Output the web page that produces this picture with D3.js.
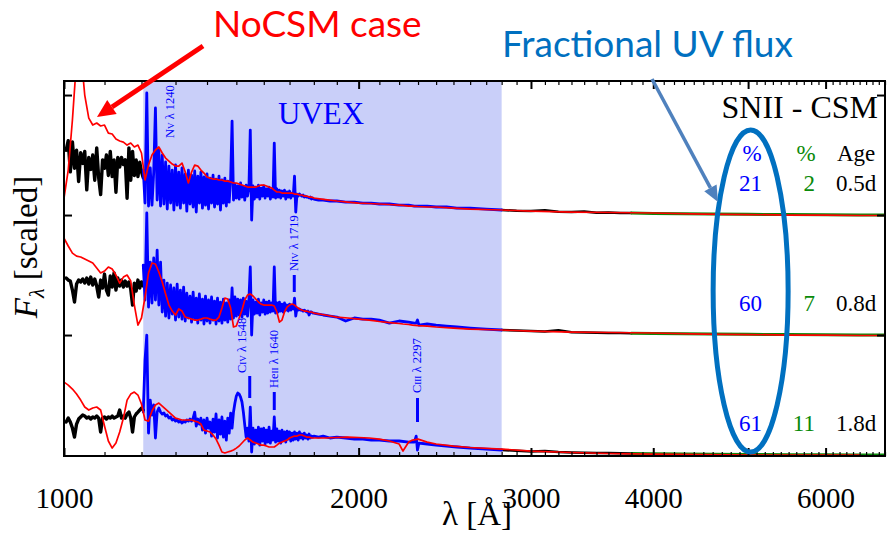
<!DOCTYPE html>
<html>
<head>
<meta charset="utf-8">
<script src="https://cdn.jsdelivr.net/npm/d3@7/dist/d3.min.js"></script>
<style>
  html, body { margin:0; padding:0; background:#ffffff; }
  svg { display:block; }
</style>
</head>
<body>
<svg id="chart" width="888" height="533"></svg>
<script>
// ================= DATA =================
const xTickLabels = [1000, 2000, 3000, 4000, 6000];
const xMajorTicks = [1000, 2000, 3000, 4000, 5000, 6000];
const offsets = [2, 1, 0];               // vertical offsets: 0.5d, 0.8d, 1.8d
const ages = ["0.5d", "0.8d", "1.8d"];
const uvPercent = [21, 60, 61];          // fractional UV flux (blue %)
const optPercent = [2, 7, 11];           // green %
const uvexBand = [1205, 2800];

// far-UV observed part (black)
const waveFar = [1005,1010,1015,1020,1025,1030,1035,1040,1045,1050,1055,1060,1065,1070,1075,1080,1085,1090,1095,1100,1105,1110,1115,1120,1125,1130,1135,1140,1145,1150,1155,1160,1165,1170,1175,1180,1185,1190,1195,1200,1205];
const farTop = [0.54,0.62,0.36,0.61,0.39,0.54,0.28,0.52,0.43,0.53,0.21,0.48,0.38,0.5,0.29,0.56,0.31,0.17,0.46,0.39,0.5,0.33,0.53,0.32,0.46,0.19,0.48,0.4,0.48,0.42,0.46,0.14,0.56,0.29,0.53,0.33,0.46,0.32,0.44,0.36,0.31];
const farMid = [0.475,0.458,0.45,0.375,0.275,0.425,0.458,0.442,0.467,0.433,0.475,0.425,0.483,0.417,0.467,0.408,0.317,0.458,0.392,0.508,0.375,0.333,0.492,0.4,0.517,0.375,0.475,0.408,0.458,0.4,0.45,0.408,0.442,0.383,0.25,0.433,0.367,0.458,0.392,0.442,0.408];
const farBot = [0.275,0.308,0.275,0.225,0.15,0.258,0.3,0.317,0.333,0.325,0.308,0.317,0.3,0.317,0.308,0.325,0.308,0.192,0.308,0.317,0.3,0.317,0.308,0.325,0.308,0.317,0.325,0.375,0.308,0.325,0.308,0.342,0.358,0.308,0.192,0.317,0.342,0.358,0.375,0.392,0.375];

// UVEX band (blue)
const waveUV = [1205,1210,1215,1220,1225,1230,1235,1240,1245,1250,
1255,1260,1265,1270,1275,1280,1285,1290,1295,1300,
1305,1310,1315,1320,1325,1330,1335,1340,1345,1350,
1355,1360,1365,1370,1375,1380,1385,1390,1395,1400,
1405,1410,1415,1420,1425,1430,1435,1440,1445,1450,
1455,1460,1465,1470,1475,1480,1485,1490,1495,1500,
1505,1510,1515,1520,1525,1530,1535,1540,1545,1550,
1555,1560,1565,1570,1575,1580,1585,1590,1595,1600,
1605,1610,1615,1620,1625,1630,1635,1640,1645,1650,
1655,1660,1665,1670,1675,1680,1685,1690,1695,1700,
1705,1710,1715,1720,1725,1730,1735,1740,1745,1750,
1755,1760,1765,1770,1775,1780,1785,1790,1795,1800,
1820,1840,1870,1900,1940,1980,2020,2060,2100,2150,2200,2250,2280,2290,2297,2305,2350,2400,2460,2520,2600,2700,2800];
const uvTop = [0.375,0.1,1.017,0.075,0.392,0.083,0.358,0.892,0.125,0.542,
0.075,0.5,0.092,0.442,0.05,0.408,0.1,0.375,0.042,0.417,
0.083,0.358,0.058,0.392,0.1,0.342,0.033,0.375,0.092,0.333,
0.067,0.367,0.025,0.325,0.1,0.358,0.058,0.317,0.083,0.342,
0.05,0.308,0.1,0.333,0.067,0.3,0.092,0.325,0.042,0.292,
0.1,0.308,0.075,0.283,0.108,0.3,0.783,0.125,0.258,0.142,
0.242,0.133,0.267,0.15,0.233,0.125,0.25,0.158,0.225,0.708,
-0.042,0.242,0.133,0.233,0.15,0.25,0.133,0.225,0.158,0.242,
0.142,0.217,0.158,0.233,0.133,0.208,0.15,0.6,0.142,0.217,
0.15,0.208,0.142,0.2,0.158,0.208,0.133,0.192,0.15,0.2,
0.142,0.183,0.158,0.325,0.025,0.175,0.158,0.175,0.167,0.158,
0.167,0.15,0.158,0.15,0.15,0.142,0.15,0.133,0.142,0.133,
0.125,0.125,0.117,0.117,0.108,0.108,0.1,0.1,0.092,0.092,0.083,0.083,0.075,0.075,0.075,0.075,0.075,0.067,0.067,0.058,0.058,0.05,0.042];
const uvMid = [0.583,0.292,1.017,0.233,0.608,0.267,0.642,0.292,0.708,0.25,
0.608,0.192,0.458,0.158,0.433,0.142,0.417,0.175,0.392,0.125,
0.425,0.15,0.375,0.133,0.4,0.117,0.35,0.142,0.325,0.108,
0.358,0.133,0.308,0.1,0.342,0.125,0.3,0.092,0.325,0.117,
0.292,0.1,0.317,0.125,0.283,0.092,0.308,0.117,0.275,0.1,
0.3,0.125,0.267,0.108,0.292,0.133,0.392,0.142,0.317,0.158,
0.3,0.167,0.292,0.15,0.308,0.175,0.283,0.158,0.3,0.567,
0,0.292,0.175,0.275,0.183,0.3,0.167,0.267,0.192,0.292,
0.175,0.275,0.183,0.283,0.192,0.267,0.2,0.567,0.183,0.267,
0.192,0.275,0.2,0.258,0.192,0.267,0.208,0.25,0.2,0.258,
0.208,0.242,0.217,0.308,0.158,0.225,0.208,0.217,0.208,0.208,
0.2,0.208,0.2,0.192,0.2,0.167,0.192,0.192,0.183,0.183,
0.175,0.167,0.158,0.15,0.117,0.142,0.133,0.133,0.125,0.1,0.117,0.108,0.1,0.1,0.125,0.083,0.092,0.083,0.075,0.067,0.058,0.05,0.042];
const uvBot = [0.358,0.792,1.0,0.183,0.458,0.333,0.417,0.142,0.358,0.392,
0.358,0.342,0.35,0.325,0.333,0.308,0.317,0.292,0.3,0.283,
0.292,0.275,0.283,0.267,0.283,0.275,0.292,0.283,0.3,0.283,
0.308,0.358,0.242,0.3,0.258,0.308,0.208,0.292,0.183,0.308,
0.225,0.275,0.158,0.3,0.192,0.342,0.142,0.292,0.175,0.317,
0.15,0.283,0.125,0.308,0.183,0.35,0.225,0.358,0.433,0.492,
0.517,0.508,0.483,0.442,0.358,0.25,0.15,0.225,0.117,0.4,
0.025,0.225,0.092,0.208,0.108,0.233,0.083,0.217,0.117,0.225,
0.092,0.208,0.108,0.233,0.1,0.2,0.125,0.317,0.108,0.217,
0.117,0.2,0.1,0.208,0.125,0.192,0.108,0.2,0.133,0.192,
0.117,0.183,0.125,0.192,0.133,0.183,0.125,0.192,0.142,0.175,
0.133,0.183,0.142,0.167,0.133,0.175,0.142,0.158,0.15,0.158,
0.15,0.158,0.142,0.15,0.142,0.133,0.133,0.125,0.125,0.117,0.117,0.108,0.108,0.158,0.042,0.1,0.092,0.083,0.075,0.067,0.058,0.05,0.042];

// optical observed part (black) and long-wavelength part (green)
const waveOpt = [2800,2900,3000,3100,3200,3300,3400,3500,3600,3700,3800];
const optTop = [0.042,0.036,0.033,0.04,0.028,0.025,0.03,0.02,0.022,0.018,0.017];
const optMid = [0.042,0.037,0.033,0.03,0.04,0.024,0.022,0.02,0.018,0.016,0.015];
const optBot = [0.042,0.035,0.03,0.033,0.025,0.022,0.02,0.018,0.016,0.014,0.013];
const waveGreen = [3800,4000,4300,4600,5000,5500,6000,6500,6900];
const greenTop = [0.017,0.013,0.01,0.008,0.006,0.004,0.002,0.001,0.0];
const greenMid = [0.015,0.012,0.01,0.008,0.006,0.004,0.002,0.001,0.0];
const greenBot = [0.013,0.01,0.008,0.006,0.005,0.003,0.002,0.001,0.0];

// NoCSM model (red)
const waveModel = [1000,1010,1020,1030,1040,1050,1060,1070,1080,1090,
1100,1110,1120,1130,1140,1150,1160,1170,1180,1190,
1200,1210,1220,1230,1240,1250,1260,1270,1280,1290,
1300,1310,1320,1330,1340,1350,1360,1370,1380,1390,
1400,1410,1420,1430,1440,1450,1460,1470,1480,1490,
1500,1510,1520,1530,1540,1550,1560,1570,1580,1590,
1600,1610,1620,1630,1640,1650,1660,1670,1680,1690,
1700,1710,1720,1730,1740,1750,1760,1770,1780,1790,
1800,1850,1900,1950,2000,2050,2100,2150,2200,2220,2250,2270,2300,2350,2400,2500,2600,2800,3000,3300,3600,4000,4500,5000,5500,6000,6500,6900];
const modelTop = [0.142,0.375,0.792,1.292,1.375,1.0,0.808,0.75,0.767,0.742,
0.75,0.683,0.675,0.633,0.617,0.608,0.583,0.6,0.567,0.583,
0.517,0.292,0.417,0.5,0.542,0.567,0.517,0.475,0.45,0.425,
0.408,0.408,0.433,0.358,0.267,0.358,0.417,0.408,0.375,0.35,
0.317,0.308,0.3,0.3,0.292,0.292,0.283,0.283,0.275,0.267,
0.267,0.258,0.25,0.242,0.233,0.233,0.233,0.233,0.242,0.25,
0.25,0.242,0.233,0.225,0.208,0.192,0.192,0.183,0.183,0.183,
0.183,0.183,0.175,0.175,0.167,0.167,0.158,0.158,0.15,0.15,
0.142,0.129,0.117,0.108,0.1,0.096,0.092,0.088,0.083,0.081,0.075,0.075,0.071,0.067,0.067,0.058,0.05,0.042,0.033,0.025,0.021,0.017,0.008,0.004,0,0,-0.004,-0.004];
const modelMid = [0.808,0.742,0.683,0.658,0.65,0.633,0.617,0.6,0.558,0.517,
0.533,0.567,0.55,0.5,0.433,0.483,0.5,0.45,0.25,0.083,
0.142,0.317,0.517,0.6,0.592,0.525,0.442,0.342,0.25,0.2,
0.167,0.217,0.2,0.15,0.142,0.133,0.125,0.125,0.133,0.142,
0.142,0.133,0.125,0.125,0.15,0.225,0.308,0.3,0.225,0.067,
0.075,0.142,0.208,0.292,0.333,0.342,0.325,0.3,0.275,0.258,
0.25,0.25,0.25,0.25,0.242,0.192,0.108,0.125,0.192,0.233,
0.25,0.258,0.25,0.233,0.217,0.208,0.2,0.2,0.192,0.192,
0.183,0.167,0.15,0.142,0.133,0.125,0.113,0.104,0.096,0.092,0.088,0.083,0.079,0.075,0.067,0.058,0.05,0.042,0.033,0.025,0.021,0.017,0.008,0.004,0,0,-0.004,-0.004];
const modelBot = [0.608,0.583,0.55,0.508,0.458,0.4,0.375,0.392,0.4,0.375,
0.242,0.117,0.058,0.1,0.192,0.308,0.458,0.508,0.525,0.5,
0.425,0.292,0.283,0.367,0.417,0.433,0.408,0.383,0.358,0.333,
0.308,0.3,0.292,0.292,0.292,0.292,0.283,0.275,0.258,0.208,
0.2,0.192,0.167,0.133,0.083,0.025,0.017,0.025,0.033,0.042,
0.058,0.075,0.1,0.125,0.142,0.125,0.108,0.1,0.092,0.083,
0.083,0.075,0.067,0.067,0.067,0.083,0.1,0.108,0.117,0.125,
0.142,0.15,0.158,0.158,0.167,0.167,0.158,0.15,0.15,0.142,
0.142,0.142,0.146,0.15,0.146,0.142,0.133,0.117,0.092,0.033,0.108,0.125,0.133,0.108,0.092,0.075,0.063,0.05,0.033,0.021,0.013,0.008,0.004,0,0,0,0];

// identified lines
const lineElement = ["N", "N", "C", "He", "C"];
const lineIon     = ["v", "iv", "iv", "ii", "iii"];
const lineWave    = [1240, 1719, 1548, 1640, 2297];

// ================= DRAWING =================
const serif = "'Liberation Serif','Times New Roman',serif";
const sans = "Lato,'Open Sans','Liberation Sans',sans-serif";
const BLUE = "#0000ff", RED = "#ff0000", GREEN = "#0a8a0a";

const L = 64, R = 885, T = 81, B = 456;
const svg = d3.select("#chart");
const x = d3.scaleLog().domain([1000, 6900]).range([L, R]);
const y = d3.scaleLinear().domain([-0.008, 3.117]).range([B, T]);

svg.append("defs").append("clipPath").attr("id", "clip")
  .append("rect").attr("x", L).attr("y", T).attr("width", R - L).attr("height", B - T);

// UVEX band
svg.append("rect")
  .attr("x", x(uvexBand[0])).attr("y", T)
  .attr("width", x(uvexBand[1]) - x(uvexBand[0])).attr("height", B - T)
  .attr("fill", "#c9cff9");

const plot = svg.append("g").attr("clip-path", "url(#clip)");
const line = d3.line().x(d => x(d[0])).y(d => y(d[1]));
const pts = (w, f, off) => w.map((v, i) => [v, f[i] + off]);

const spectra = [
  {far: farTop, uv: uvTop, opt: optTop, green: greenTop, model: modelTop},
  {far: farMid, uv: uvMid, opt: optMid, green: greenMid, model: modelMid},
  {far: farBot, uv: uvBot, opt: optBot, green: greenBot, model: modelBot}
];

function draw(d, color, width) {
  plot.append("path").attr("d", line(d)).attr("fill", "none")
    .attr("stroke", color).attr("stroke-width", width)
    .attr("stroke-linejoin", "round").attr("stroke-linecap", "round");
}
spectra.forEach((s, i) => {
  const off = offsets[i];
  draw(pts(waveFar, s.far, off), "#000", 3.4);
  draw(pts(waveOpt, s.opt, off), "#000", 2.5);
  draw(pts(waveGreen, s.green, off), GREEN, 3);
  draw(pts(waveUV, s.uv, off), BLUE, 2.8);
});
spectra.forEach((s, i) => {
  draw(pts(waveModel, s.model, offsets[i]), RED, 1.7);
});

// axes
const minor = d3.range(1100, 6901, 100).filter(v => v % 1000 !== 0);
function styleAxis(g) {
  g.select(".domain").remove();
  g.selectAll(".tick line").attr("stroke", "#000");
}
svg.append("g").attr("transform", `translate(0,${B})`)
  .call(d3.axisBottom(x).tickValues(minor).tickSize(-4).tickFormat(""))
  .call(styleAxis).selectAll(".tick line").attr("stroke-width", 1.2);
svg.append("g").attr("transform", `translate(0,${T})`)
  .call(d3.axisTop(x).tickValues(minor).tickSize(-4).tickFormat(""))
  .call(styleAxis).selectAll(".tick line").attr("stroke-width", 1.2);
const bottomMajor = svg.append("g").attr("transform", `translate(0,${B})`)
  .call(d3.axisBottom(x).tickValues(xMajorTicks).tickSize(-8)
    .tickFormat(d => xTickLabels.includes(d) ? String(d) : ""))
  .call(styleAxis);
bottomMajor.selectAll(".tick line").attr("stroke-width", 2);
bottomMajor.selectAll(".tick text").attr("y", 52).attr("dy", 0)
  .attr("font-family", serif).attr("font-size", 29).attr("fill", "#000");
svg.append("g").attr("transform", `translate(0,${T})`)
  .call(d3.axisTop(x).tickValues(xMajorTicks).tickSize(-8).tickFormat(""))
  .call(styleAxis).selectAll(".tick line").attr("stroke-width", 2);
svg.append("g").attr("transform", `translate(${L},0)`)
  .call(d3.axisLeft(y).tickValues([1, 2, 3]).tickSize(-8).tickFormat(""))
  .call(styleAxis).selectAll(".tick line").attr("stroke-width", 2);
svg.append("g").attr("transform", `translate(${R},0)`)
  .call(d3.axisRight(y).tickValues([1, 2, 3]).tickSize(-8).tickFormat(""))
  .call(styleAxis).selectAll(".tick line").attr("stroke-width", 2);

// frame
svg.append("rect").attr("x", L).attr("y", T).attr("width", R - L).attr("height", B - T)
  .attr("fill", "none").attr("stroke", "#000").attr("stroke-width", 2);

// axis titles
svg.append("text").attr("x", 477).attr("y", 525).attr("text-anchor", "middle")
  .attr("font-family", serif).attr("font-size", 33)
  .text("λ [Å]");
const yt = svg.append("text").attr("transform", "translate(37,247) rotate(-90)")
  .attr("text-anchor", "middle").attr("font-family", serif).attr("font-size", 33);
yt.append("tspan").attr("font-style", "italic").text("F");
yt.append("tspan").attr("font-size", 22).attr("font-style", "italic").attr("dy", 7).text("λ");
yt.append("tspan").attr("dy", -7).text(" [scaled]");

// UVEX label
svg.append("text").attr("x", 278).attr("y", 124).attr("font-family", serif)
  .attr("font-size", 31).attr("fill", BLUE).text("UVEX");

// line identifications
const lineLayout = [
  {dx: 19, ty: 138, dash: null},
  {dx: 4, ty: 271, dash: [275, 292]},
  {dx: -4, ty: 373, dash: [376, 398]},
  {dx: 4, ty: 388, dash: [392, 410]},
  {dx: 4, ty: 393, dash: [398, 422]}
];
lineWave.forEach((w, i) => {
  const lx = x(w), lay = lineLayout[i];
  if (lay.dash) {
    svg.append("line").attr("x1", lx).attr("x2", lx)
      .attr("y1", lay.dash[0]).attr("y2", lay.dash[1])
      .attr("stroke", BLUE).attr("stroke-width", 3);
  }
  const t = svg.append("text")
    .attr("transform", `translate(${lx + lay.dx},${lay.ty}) rotate(-90)`)
    .attr("font-family", serif).attr("font-size", 12.5).attr("fill", BLUE);
  t.append("tspan").text(lineElement[i]);
  t.append("tspan").style("font-variant", "small-caps").text(lineIon[i]);
  t.append("tspan").text(" λ " + w);
});

// SNII - CSM table
svg.append("text").attr("x", 878).attr("y", 118).attr("text-anchor", "end")
  .attr("font-family", serif).attr("font-size", 32).text("SNII - CSM");
const tbl = svg.append("g").attr("font-family", serif).attr("font-size", 23);
tbl.append("text").attr("x", 752).attr("y", 161).attr("text-anchor", "middle").attr("fill", BLUE).text("%");
tbl.append("text").attr("x", 806).attr("y", 161).attr("text-anchor", "middle").attr("fill", GREEN).text("%");
tbl.append("text").attr("x", 837).attr("y", 161).attr("fill", "#000").text("Age");
offsets.forEach((off, i) => {
  const ry = y(off + 0.2);
  tbl.append("text").attr("x", 762).attr("y", ry).attr("text-anchor", "end").attr("fill", BLUE).text(uvPercent[i]);
  tbl.append("text").attr("x", 815).attr("y", ry).attr("text-anchor", "end").attr("fill", GREEN).text(optPercent[i]);
  tbl.append("text").attr("x", 836).attr("y", ry).attr("fill", "#000").text(ages[i]);
});

// ellipse around fractional UV flux
svg.append("ellipse").attr("cx", x(5030)).attr("cy", y(1.367))
  .attr("rx", 37.5).attr("ry", 161)
  .attr("fill", "none").attr("stroke", "#0070c0").attr("stroke-width", 5);

// annotation arrows
function arrow(x1, y1, x2, y2, color, w, hl, hw) {
  const ang = Math.atan2(y2 - y1, x2 - x1);
  const bx = x2 - hl * Math.cos(ang), by = y2 - hl * Math.sin(ang);
  svg.append("line").attr("x1", x1).attr("y1", y1).attr("x2", bx).attr("y2", by)
    .attr("stroke", color).attr("stroke-width", w);
  const px = Math.sin(ang) * hw / 2, py = -Math.cos(ang) * hw / 2;
  svg.append("path")
    .attr("d", `M${x2},${y2}L${bx + px},${by + py}L${bx - px},${by - py}Z`)
    .attr("fill", color);
}
arrow(203, 46, 97, 117, RED, 5, 18, 17);
arrow(652, 79, 718, 202, "#4f81bd", 3.5, 16, 14);

svg.append("text").attr("x", 213).attr("y", 37).attr("font-family", sans)
  .attr("font-size", 37).attr("fill", RED).text("NoCSM case");
svg.append("text").attr("x", 502).attr("y", 57).attr("font-family", sans)
  .attr("font-size", 37).attr("fill", "#0070c0").text("Fractional UV flux");
</script>
</body>
</html>
